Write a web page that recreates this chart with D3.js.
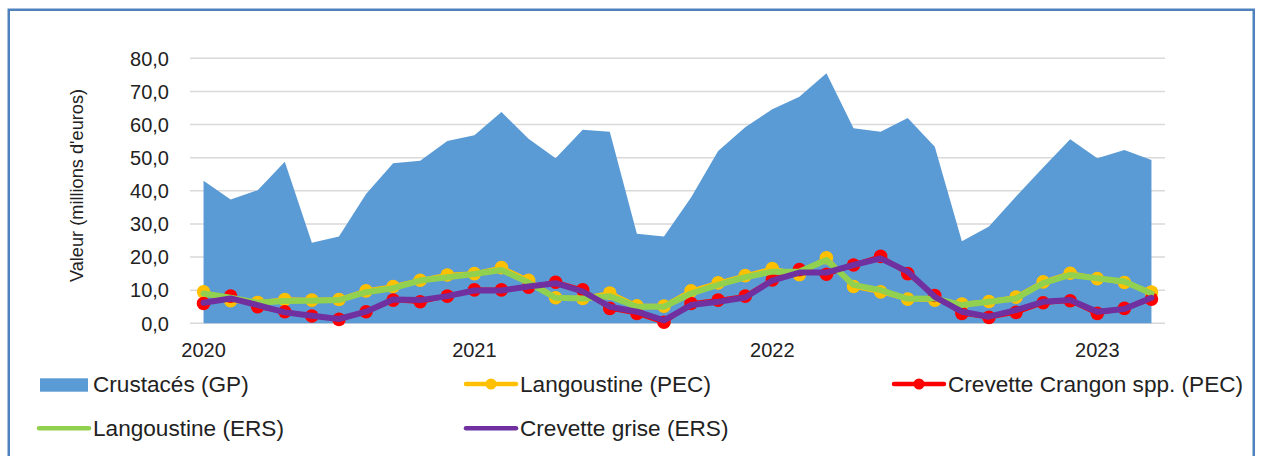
<!DOCTYPE html>
<html>
<head>
    <meta charset="utf-8">
    <title>Crustacés</title>
    <script src="https://d3js.org/d3.v7.min.js"></script>
    <style>
        body { margin: 0; background: #fff; }
        text { fill: #222; }
        .tick-label { font-family: "Liberation Sans", Arial, sans-serif; font-size: 20px; }
        .legend-text { font-family: "Liberation Sans", Arial, sans-serif; font-size: 22.6px; }
    </style>
</head>
<body>
<svg id="chart" width="1261" height="456"></svg>
<script>
    // index of each point (36 periods), year labels at some of them
    var yearTickIdx = [0, 10, 21, 33];
    var yearTickLabels = ["2020", "2021", "2022", "2023"];
    var yTicks = [0, 10, 20, 30, 40, 50, 60, 70, 80];

    var crustacesGP = [43.0, 37.4, 40.2, 48.8, 24.3, 26.2, 39.0, 48.3, 49.1, 55.0, 56.8, 63.8, 55.7, 49.8, 58.4, 57.8, 27.0, 26.2,
        38.0, 52.0, 59.2, 64.6, 68.4, 75.5, 58.9, 57.8, 62.0, 53.3, 24.8, 29.2, 38.3, 47.0, 55.6, 49.8, 52.3, 49.3];
    var langoustinePEC = [9.5, 6.8, 6.3, 7.2, 7.0, 7.2, 9.8, 11.1, 13.0, 14.6, 15.0, 16.8, 13.0, 7.7, 7.5, 9.1, 5.3, 5.2,
        9.8, 12.2, 14.4, 16.5, 14.7, 19.8, 11.1, 9.5, 7.3, 7.0, 5.8, 6.6, 7.9, 12.5, 15.1, 13.5, 12.3, 9.4];
    var crevettePEC = [6.0, 8.2, 5.0, 3.5, 2.2, 1.2, 3.5, 7.0, 6.5, 8.2, 10.1, 10.1, 10.9, 12.4, 10.1, 4.5, 3.0, 0.3,
        6.0, 7.0, 8.2, 13.1, 16.2, 14.8, 17.6, 20.2, 15.0, 8.4, 3.0, 1.8, 3.3, 6.2, 6.8, 3.0, 4.5, 7.3];
    var langoustineERS = [9.0, 7.7, 6.2, 6.7, 6.8, 7.0, 9.4, 10.6, 12.9, 13.9, 14.9, 16.1, 12.3, 7.7, 7.5, 8.2, 5.0, 5.0,
        9.0, 11.6, 13.9, 15.6, 15.6, 19.1, 11.6, 10.0, 7.4, 7.5, 5.5, 6.5, 7.5, 12.1, 14.6, 13.6, 12.6, 9.0];
    var crevetteERS = [6.2, 7.5, 5.5, 3.3, 2.3, 1.3, 3.5, 7.2, 7.0, 8.2, 9.9, 9.9, 11.1, 12.1, 9.6, 5.0, 3.5, 0.9,
        5.5, 6.5, 7.8, 12.9, 15.3, 15.3, 17.6, 19.6, 15.6, 8.0, 3.5, 2.0, 4.0, 6.5, 7.0, 3.5, 4.3, 7.7];

    var svg = d3.select("#chart");

    // outer frame
    svg.append("rect")
        .attr("x", 8.75).attr("y", 9.75)
        .attr("width", 1245).attr("height", 520)
        .attr("fill", "none")
        .attr("stroke", "#4F81BD")
        .attr("stroke-width", 2.5);

    var plotLeft = 190, plotRight = 1165, plotTop = 58.3, plotBottom = 323.3;

    var xBand = d3.scaleBand().domain(d3.range(crustacesGP.length)).range([plotLeft, plotRight]);
    var x = function(i) { return xBand(i) + xBand.bandwidth() / 2; };
    var y = d3.scaleLinear().domain([0, 80]).range([plotBottom, plotTop]);

    // gridlines
    svg.append("g").selectAll("line")
        .data(yTicks)
        .enter().append("line")
        .attr("x1", plotLeft).attr("x2", plotRight)
        .attr("y1", function(d) { return y(d); })
        .attr("y2", function(d) { return y(d); })
        .attr("stroke", "#D9D9D9")
        .attr("stroke-width", 1.5);

    // y tick labels
    svg.append("g").selectAll("text")
        .data(yTicks)
        .enter().append("text")
        .attr("class", "tick-label")
        .attr("x", 169)
        .attr("y", function(d) { return y(d); })
        .attr("dy", "0.36em")
        .attr("text-anchor", "end")
        .text(function(d) { return d3.format(".1f")(d).replace(".", ","); });

    // x year labels
    svg.append("g").selectAll("text")
        .data(yearTickIdx)
        .enter().append("text")
        .attr("class", "tick-label")
        .attr("x", function(d) { return x(d); })
        .attr("y", 356.5)
        .attr("text-anchor", "middle")
        .text(function(d, i) { return yearTickLabels[i]; });

    // y title
    svg.append("text")
        .attr("transform", "translate(83,185.5) rotate(-90)")
        .attr("text-anchor", "middle")
        .style("font-family", "'Liberation Sans', Arial, sans-serif")
        .style("font-size", "18.2px")
        .text("Valeur (millions d'euros)");

    // area
    var area = d3.area()
        .x(function(d, i) { return x(i); })
        .y0(y(0))
        .y1(function(d) { return y(d); });

    svg.append("path")
        .datum(crustacesGP)
        .attr("d", area)
        .attr("fill", "#5B9BD5");

    var line = d3.line()
        .x(function(d, i) { return x(i); })
        .y(function(d) { return y(d); });

    function markerSeries(data, color) {
        svg.append("path")
            .datum(data)
            .attr("d", line)
            .attr("fill", "none")
            .attr("stroke", color)
            .attr("stroke-width", 4.5)
            .attr("stroke-linejoin", "round");
        svg.append("g").selectAll("circle")
            .data(data)
            .enter().append("circle")
            .attr("cx", function(d, i) { return x(i); })
            .attr("cy", function(d) { return y(d); })
            .attr("r", 6.8)
            .attr("fill", color);
    }

    function lineSeries(data, color) {
        svg.append("path")
            .datum(data)
            .attr("d", line)
            .attr("fill", "none")
            .attr("stroke", color)
            .attr("stroke-width", 6)
            .attr("stroke-linejoin", "round")
            .attr("stroke-linecap", "round");
    }

    markerSeries(langoustinePEC, "#FFC000");
    markerSeries(crevettePEC, "#FF0000");
    lineSeries(langoustineERS, "#92D050");
    lineSeries(crevetteERS, "#7030A0");

    // legend
    var legend = svg.append("g");

    legend.append("rect")
        .attr("x", 40).attr("y", 378.3)
        .attr("width", 48).attr("height", 13.4)
        .attr("fill", "#5B9BD5");
    legend.append("text").attr("class", "legend-text").attr("x", 93).attr("y", 392).text("Crustacés (GP)");

    function legendLine(x0, yy, color, marker, label) {
        legend.append("line")
            .attr("x1", x0).attr("x2", x0 + 50)
            .attr("y1", yy).attr("y2", yy)
            .attr("stroke", color)
            .attr("stroke-width", 4.5)
            .attr("stroke-linecap", "round");
        if (marker) {
            legend.append("circle")
                .attr("cx", x0 + 25).attr("cy", yy)
                .attr("r", 5.5)
                .attr("fill", color);
        }
        legend.append("text").attr("class", "legend-text")
            .attr("x", x0 + 54).attr("y", yy + 8)
            .text(label);
    }

    legendLine(466, 384, "#FFC000", true, "Langoustine (PEC)");
    legendLine(894, 384, "#FF0000", true, "Crevette Crangon spp. (PEC)");
    legendLine(39, 428.3, "#92D050", false, "Langoustine (ERS)");
    legendLine(466, 428.3, "#7030A0", false, "Crevette grise (ERS)");
</script>
</body>
</html>
